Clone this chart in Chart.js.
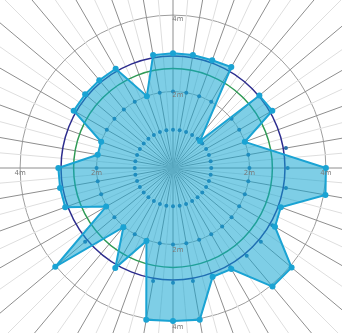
<!DOCTYPE html>
<html>
<head>
<meta charset="utf-8">
<script src="https://cdn.jsdelivr.net/npm/chart.js@4.4.1/dist/chart.umd.min.js"></script>
<style>
  html, body { margin: 0; padding: 0; background: #fff; overflow: hidden; }
  body { width: 342px; height: 333px; position: relative; }
  #wrap { position: absolute; left: -77px; top: -82px; width: 500px; height: 500px; }
</style>
</head>
<body>
<div id="wrap"><canvas id="rose" width="500" height="500"></canvas></div>
<script>
// bearings every 5 degrees (spokes)
const bearings = [
  '0', '5', '10', '15', '20', '25', '30', '35', '40', '45', '50', '55',
  '60', '65', '70', '75', '80', '85', '90', '95', '100', '105', '110', '115',
  '120', '125', '130', '135', '140', '145', '150', '155', '160', '165', '170', '175',
  '180', '185', '190', '195', '200', '205', '210', '215', '220', '225', '230', '235',
  '240', '245', '250', '255', '260', '265', '270', '275', '280', '285', '290', '295',
  '300', '305', '310', '315', '320', '325', '330', '335', '340', '345', '350', '355'
];

// envelope (m), one value per bearing, null where there is no vertex
const envelope = [
  3.0, null, 3.0, null, 3.0, null, 3.05, null, null, 1.0, 2.95, null,
  3.0, null, 2.0, null, null, null, 4.0, null, 4.05, null, 3.0, null,
  3.08, null, 4.05, null, 4.05, null, 3.05, null, 3.03, null, 4.03, null,
  4.0, null, 4.03, null, 2.03, null, 3.02, null, 2.02, null, 4.02, null,
  2.02, null, 3.0, null, 3.0, null, 3.0, null, 2.0, null, 2.0, null,
  3.0, null, 3.0, null, 3.0, null, 3.0, null, 2.0, null, 3.0, null
];

// sample points every 10 degrees
const ring1m = [
  1, 1, 1, 1, 1, 1, 1, 1, 1, 1, 1, 1, 1, 1, 1, 1, 1, 1,
  1, 1, 1, 1, 1, 1, 1, 1, 1, 1, 1, 1, 1, 1, 1, 1, 1, 1
];
const ring2m = [
  2, 2, 2, 2, null, 2, 2, 2, 2, 2, 2, 2, 2, 2, 2, 2, 2, 2,
  2, 2, 2, 2, 2, 2, 2, 2, 2, 2, 2, 2, 2, 2, 2, 2, 2, 2
];
const ring3m = [
  3, 3, 3, 3, null, null, 3, null, 3, 3, 3, 3, 3, 3, 3, 3, 3, 3,
  3, 3, null, 3, null, 3, null, 3, 3, 3, null, null, 3, 3, 3, 3, null, 3
];

const navyRing = 2.93;
const greenRing = 2.6;

const tickValues = [2, 4];
const tickLabels = ['2m', '4m'];

// every 10-degree sample sits on an even spoke
const onSpokes = arr => arr.flatMap(v => [v, null]);

const refRings = {
  id: 'refRings',
  beforeDatasetsDraw(c) {
    const r = c.scales.r;
    const ctx = c.ctx;
    ctx.save();
    ctx.lineWidth = 1.5;
    [[greenRing, '#2f9a55'], [navyRing, '#2d2d8e']].forEach(([v, col]) => {
      ctx.strokeStyle = col;
      ctx.beginPath();
      ctx.arc(r.xCenter, r.yCenter, r.getDistanceFromCenterForValue(v), 0, Math.PI * 2);
      ctx.stroke();
    });
    ctx.restore();
  },
};

const axisLabels = {
  id: 'axisLabels',
  afterDatasetsDraw(c) {
    const r = c.scales.r;
    const ctx = c.ctx;
    ctx.save();
    ctx.font = '7px "DejaVu Sans"';
    ctx.fillStyle = '#7a7a7a';
    ctx.textAlign = 'center';
    ctx.textBaseline = 'middle';
    [0, 18, 36, 54].forEach((idx) => {
      tickValues.forEach((v, k) => {
        const p = r.getPointPositionForValue(idx, v);
        const vertical = idx === 0 || idx === 36;
        const dx = vertical ? 5 : 0;
        const dy = vertical ? (idx === 0 ? 4 : 6) : 5;
        ctx.fillText(tickLabels[k], p.x + dx, p.y + dy);
      });
    });
    ctx.restore();
  },
};

const ctx = document.getElementById('rose');

new Chart(ctx, {
  type: 'radar',
  data: {
    labels: bearings,
    datasets: [
      {
        label: 'envelope',
        data: envelope,
        spanGaps: true,
        fill: 'origin',
        backgroundColor: 'rgba(20, 165, 210, 0.55)',
        borderColor: '#1aa3d3',
        borderWidth: 2,
        pointRadius: 3,
        pointBackgroundColor: '#1aa3d3',
        pointBorderWidth: 0,
      },
      {
        label: '3m',
        data: onSpokes(ring3m),
        showLine: false,
        fill: false,
        pointRadius: 2,
        pointBackgroundColor: '#2c6fa8',
        pointBorderWidth: 0,
      },
      {
        label: '2m',
        data: onSpokes(ring2m),
        showLine: false,
        fill: false,
        pointRadius: 2,
        pointBackgroundColor: '#2c6fa8',
        pointBorderWidth: 0,
      },
      {
        label: '1m',
        data: onSpokes(ring1m),
        showLine: false,
        fill: false,
        pointRadius: 2,
        pointBackgroundColor: '#2c6fa8',
        pointBorderWidth: 0,
      },
    ],
  },
  options: {
    responsive: false,
    animation: false,
    events: [],
    layout: { padding: 0 },
    scales: {
      r: {
        min: 0,
        max: 6.54,
        ticks: { display: false, stepSize: 2 },
        pointLabels: { display: false },
        grid: {
          circular: true,
          lineWidth: 1,
          color: (c) => (tickValues.includes(c.tick.value) ? '#9e9e9e' : 'rgba(0,0,0,0)'),
        },
        angleLines: {
          lineWidth: 1,
          color: (c) => (c.index % 2 === 0 ? '#8e8e8e' : '#dedede'),
        },
      },
    },
    plugins: {
      legend: { display: false },
      tooltip: { enabled: false },
    },
  },
  plugins: [refRings, axisLabels],
});
</script>
</body>
</html>
